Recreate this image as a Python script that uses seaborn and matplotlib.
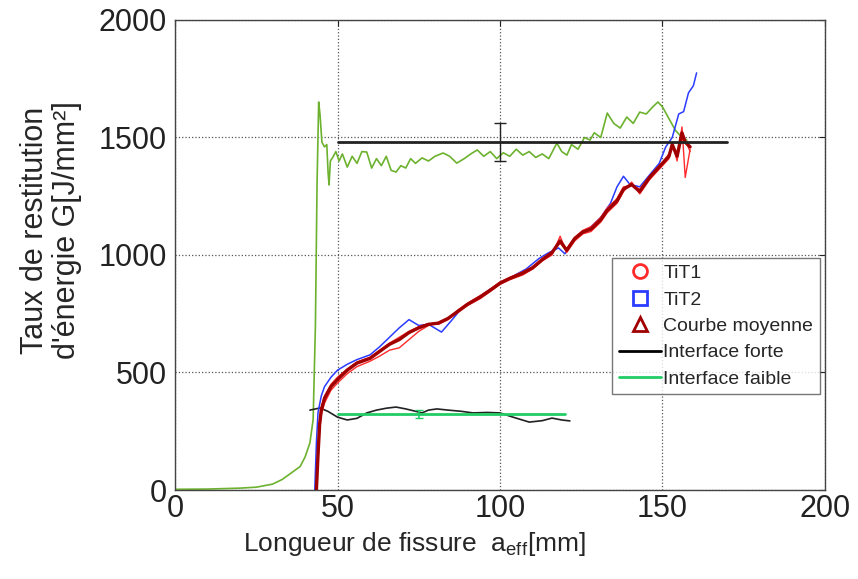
# Taux de restitution d'énergie en fonction de la longueur de fissure
import matplotlib
matplotlib.use('Agg')
import matplotlib.pyplot as plt
import seaborn as sns
import pandas as pd
from matplotlib.lines import Line2D

# Courbe moyenne (et x commun des essais TiT1)
moy_x = [43.5, 44, 44.5, 45, 46, 48, 50, 53, 56, 60,
         63, 66, 69, 72, 75, 78, 81, 84, 87, 90,
         94, 97, 100, 103, 107, 110, 113, 116, 118.5, 120.5,
         123, 125.5, 128, 131, 133, 136, 138, 140.5, 143, 146,
         148, 150, 152, 153, 154.5, 156, 157, 158.5]
moy_y = [0, 150, 280, 340, 390, 440, 470, 510, 540, 560,
         590, 620, 640, 670, 690, 705, 710, 730, 760, 790,
         822, 850, 880, 900, 923, 945, 980, 1010, 1060, 1020,
         1070, 1098, 1110, 1150, 1190, 1230, 1280, 1300, 1270, 1330,
         1360, 1390, 1420, 1470, 1420, 1520, 1480, 1460]
tit1a_y = [0, 120, 260, 320, 370, 425, 455, 495, 525, 548,
           570, 595, 605, 640, 675, 700, 712, 728, 755, 785,
           815, 845, 875, 895, 915, 940, 975, 1000, 1080, 1010,
           1060, 1090, 1100, 1140, 1180, 1220, 1270, 1310, 1260, 1320,
           1350, 1380, 1410, 1480, 1400, 1545, 1330, 1450]
tit1b_y = [0, 170, 300, 350, 400, 450, 480, 515, 545, 565,
           595, 625, 650, 675, 695, 708, 705, 725, 765, 795,
           828, 855, 885, 905, 928, 950, 985, 1015, 1050, 1025,
           1075, 1105, 1120, 1160, 1200, 1240, 1290, 1295, 1280, 1335,
           1365, 1395, 1430, 1460, 1430, 1500, 1490, 1440]

# Essai TiT2
tit2_x = [43, 43.5, 44, 45, 46, 48, 50, 53, 56, 60,
          63, 66, 69, 72, 75, 78, 82, 85, 88, 91,
          94, 97, 100, 104, 108, 112, 115, 118, 120, 122,
          125, 128, 131, 134, 136, 138, 140, 143, 146, 149,
          151, 153, 155, 156.5, 158, 159.5, 160.5]
tit2_y = [0, 200, 330, 400, 440, 480, 510, 535, 555, 575,
          610, 650, 690, 725, 700, 705, 672, 720, 770, 800,
          825, 855, 880, 910, 940, 985, 1010, 1030, 1005, 1050,
          1095, 1120, 1160, 1220, 1290, 1335, 1300, 1290, 1340, 1390,
          1460, 1500, 1600, 1610, 1690, 1720, 1775]

# Interface forte (courbe brute)
forte_x = [0, 10, 20, 25, 30, 33, 36, 38.5, 40, 41.5,
           42.5, 43.2, 43.7, 44.2, 44.6, 45.2, 46, 46.7, 47.1, 47.4,
           47.8, 48.6, 49.5, 50.5, 51.5, 53, 54.5, 56, 57.5, 59,
           60.5, 62, 63.5, 65, 66.5, 68, 69.5, 71, 72.5, 74,
           76, 78, 80, 82.5, 84.5, 86.7, 89, 91, 93, 95,
           97, 99, 101, 103, 105, 107, 109, 111, 113, 115,
           117.5, 119, 120.6, 122, 124, 126, 127.7, 129, 131, 133,
           135, 137, 139, 141, 143, 145, 147, 148.6, 150, 152,
           154, 156, 157.5]
forte_y = [3, 4, 8, 12, 25, 45, 75, 100, 140, 200,
           300, 700, 1300, 1651, 1600, 1480, 1460, 1470, 1350, 1298,
           1400, 1417, 1440, 1400, 1430, 1374, 1420, 1390, 1440, 1438,
           1370, 1410, 1380, 1420, 1360, 1353, 1380, 1370, 1410, 1390,
           1413, 1400, 1420, 1434, 1420, 1391, 1410, 1430, 1447, 1420,
           1440, 1410, 1435, 1420, 1450, 1425, 1440, 1415, 1430, 1410,
           1476, 1440, 1425, 1470, 1450, 1500, 1489, 1520, 1500, 1604,
           1560, 1540, 1587, 1560, 1608, 1600, 1630, 1651, 1630, 1580,
           1530, 1500, 1489]

# Interface faible (courbe brute)
faible_x = [41.5, 44.6, 47, 50, 53, 56, 59, 62, 65, 68,
            71, 74, 76, 78, 80.6, 84, 88, 91.7, 96, 100,
            104, 109, 113, 116, 119, 121.5]
faible_y = [340, 349, 335, 310, 298, 305, 328, 340, 348, 353,
            345, 335, 328, 340, 345, 340, 335, 328, 330, 328,
            310, 289, 295, 306, 298, 294]

# Valeurs moyennes + barres d'erreur
forte_moy_x = [50, 170]
forte_moy = 1480
forte_err_x, forte_err = 100, 80
faible_moy_x = [50, 120]
faible_moy = 322
faible_err_x, faible_err = 75, 17

sns.set_style('white')
plt.rcParams['font.family'] = ['Liberation Sans', 'DejaVu Sans']
plt.rcParams['mathtext.fontset'] = 'custom'
plt.rcParams['mathtext.rm'] = 'Liberation Sans'

fig = plt.figure(figsize=(8.58, 5.79), dpi=100)
ax = fig.add_axes([0.204, 0.1537, 0.7575, 0.8118])

c_rouge = '#ff2a2a'
c_bleu = '#2a3cff'
c_moy = '#a00000'
c_vert = '#6cb22e'
c_vert2 = '#22cc66'
c_noir = '#222222'

df_forte = pd.DataFrame({'x': forte_x, 'y': forte_y})
sns.lineplot(data=df_forte, x='x', y='y', sort=False, estimator=None,
             color=c_vert, lw=1.2, ax=ax)
df_faible = pd.DataFrame({'x': faible_x, 'y': faible_y})
sns.lineplot(data=df_faible, x='x', y='y', sort=False, estimator=None,
             color=c_noir, lw=1.2, ax=ax)

sns.lineplot(x=tit2_x, y=tit2_y, sort=False, estimator=None,
             color=c_bleu, lw=1.1, ax=ax)
for ys in (tit1a_y, tit1b_y):
    sns.lineplot(x=moy_x, y=ys, sort=False, estimator=None,
                 color=c_rouge, lw=1.0, ax=ax)
sns.lineplot(x=moy_x, y=moy_y, sort=False, estimator=None,
             color=c_moy, lw=2.4, ax=ax)

# moyennes
sns.lineplot(x=forte_moy_x, y=[forte_moy] * 2, color=c_noir, lw=2.0, ax=ax)
ax.errorbar(forte_err_x, forte_moy, yerr=forte_err, color=c_noir,
            capsize=4, lw=1.0)
sns.lineplot(x=faible_moy_x, y=[faible_moy] * 2, color=c_vert2, lw=2.0, ax=ax)
ax.errorbar(faible_err_x, faible_moy, yerr=faible_err, color=c_vert2,
            capsize=3, lw=1.2)

ax.set_xlim(0, 200)
ax.set_ylim(0, 2000)
ax.set_xticks([0, 50, 100, 150, 200])
ax.set_yticks([0, 500, 1000, 1500, 2000])
ax.grid(True, linestyle=':', color='#555555', lw=0.9)
ax.tick_params(direction='in', length=4, labelsize=22, top=True, right=True,
               colors='#222222')
ax.tick_params(axis='x', pad=3)
ax.tick_params(axis='y', pad=6)
for s in ax.spines.values():
    s.set_color('#444444')
    s.set_linewidth(1.0)

ax.set_xlabel('Longueur de fissure  a$_{\\mathregular{eff}}$[mm]', fontsize=19)
ax.xaxis.set_label_coords(0.368, -0.085)
ax.set_ylabel("Taux de restitution\nd'énergie G[J/mm²]", fontsize=22,
              linespacing=1.1)
ax.yaxis.set_label_coords(-0.143, 0.553)

handles = [
    Line2D([], [], ls='none', marker='o', ms=10, mfc='none', mec=c_rouge, mew=2),
    Line2D([], [], ls='none', marker='s', ms=10, mfc='none', mec=c_bleu, mew=2),
    Line2D([], [], ls='none', marker='^', ms=10, mfc='none', mec=c_moy, mew=2),
    Line2D([], [], color='black', lw=2),
    Line2D([], [], color=c_vert2, lw=2),
]
labels = ['TiT1', 'TiT2', 'Courbe moyenne', 'Interface forte', 'Interface faible']
leg = ax.legend(handles, labels, loc='upper left', bbox_to_anchor=(0.672, 0.494),
                fontsize=14, frameon=True, fancybox=False, borderpad=0.35,
                handlelength=2.2, handletextpad=0.1, labelspacing=0.45,
                borderaxespad=0)
leg.get_frame().set_edgecolor('#555555')
leg.get_frame().set_linewidth(1.0)

fig.savefig('out.png', dpi=100)
